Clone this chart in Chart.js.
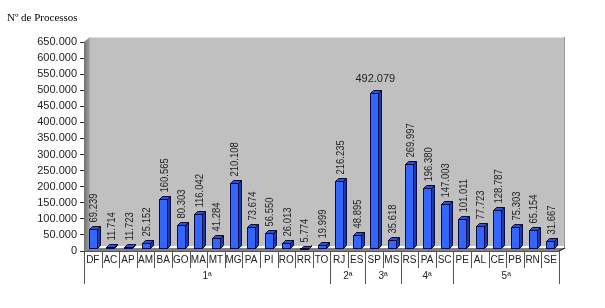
<!DOCTYPE html>
<html>
<head>
<meta charset="utf-8">
<script src="https://cdn.jsdelivr.net/npm/chart.js@4.4.1/dist/chart.umd.min.js"></script>
<style>
html,body{margin:0;padding:0;background:#fff;}
#wrap{width:605px;height:308px;position:relative;}
</style>
</head>
<body>
<div id="wrap"><canvas id="c" width="605" height="308"></canvas></div>
<script>
const categories = ['DF','AC','AP','AM','BA','GO','MA','MT','MG','PA','PI','RO','RR','TO','RJ','ES','SP','MS','RS','PA','SC','PE','AL','CE','PB','RN','SE'];
const regions = ['1ª','1ª','1ª','1ª','1ª','1ª','1ª','1ª','1ª','1ª','1ª','1ª','1ª','1ª','2ª','2ª','3ª','3ª','4ª','4ª','4ª','5ª','5ª','5ª','5ª','5ª','5ª'];
const processos = [69239,11714,11723,25152,160565,80303,116042,41284,210108,73674,56550,26013,5774,19999,216235,48895,492079,35618,269997,196380,147003,101011,77723,128787,75303,65154,31667];
const yTicks = [0,50000,100000,150000,200000,250000,300000,350000,400000,450000,500000,550000,600000,650000];
const yTitle = 'Nº de Processos';

function fmt(v){ return String(v).replace(/\B(?=(\d{3})+(?!\d))/g,'.'); }

const SANS = '"Liberation Sans", Arial, sans-serif';
const DX = 6, DY = 5;

const decor = {
  id:'decor',
  beforeDatasetsDraw(chart){
    const {ctx, chartArea:a} = chart;
    ctx.save();
    ctx.fillStyle = '#c0c0c0';
    ctx.fillRect(a.left+DX, a.top-DY, a.right-a.left, a.bottom-a.top);
    ctx.strokeStyle = '#e0e0e0';
    ctx.lineWidth = 1;
    ctx.beginPath(); ctx.moveTo(a.left+DX, a.top-DY+0.5); ctx.lineTo(a.right+DX, a.top-DY+0.5); ctx.stroke();
    ctx.strokeStyle = '#9a9a9a';
    ctx.beginPath(); ctx.moveTo(a.right+DX-0.5, a.top-DY); ctx.lineTo(a.right+DX-0.5, a.bottom-DY+2); ctx.stroke();
    const g = ctx.createLinearGradient(a.left,0,a.left+DX,0);
    g.addColorStop(0,'#6e6e6e'); g.addColorStop(1,'#a8a8a8');
    ctx.fillStyle = g;
    ctx.beginPath();
    ctx.moveTo(a.left, a.top); ctx.lineTo(a.left+DX, a.top-DY);
    ctx.lineTo(a.left+DX, a.bottom-DY+2); ctx.lineTo(a.left, a.bottom);
    ctx.closePath(); ctx.fill();
    ctx.fillStyle = '#808080';
    ctx.beginPath();
    ctx.moveTo(a.left, a.bottom); ctx.lineTo(a.left+DX, a.bottom-DY+2);
    ctx.lineTo(a.right+DX, a.bottom-DY+2); ctx.lineTo(a.right, a.bottom);
    ctx.closePath(); ctx.fill();
    ctx.strokeStyle = '#000';
    ctx.beginPath(); ctx.moveTo(a.right, a.bottom); ctx.lineTo(a.right+DX, a.bottom-DY+2); ctx.stroke();
    ctx.restore();
  },
  afterDatasetsDraw(chart){
    const {ctx} = chart;
    const meta = chart.getDatasetMeta(0);
    ctx.save();
    const d = 3;
    meta.data.forEach((bar, i) => {
      const w = bar.width;
      const l = Math.round(bar.x - w/2) + 0.5, r = l + w, t = Math.round(bar.y) + 0.5, b = bar.base - 2;
      ctx.lineWidth = 1;
      ctx.strokeStyle = '#0a0a40';
      ctx.fillStyle = '#1c3aa8';
      ctx.beginPath();
      ctx.moveTo(r, t); ctx.lineTo(r+d, t-d); ctx.lineTo(r+d, b-d); ctx.lineTo(r, b); ctx.closePath();
      ctx.fill(); ctx.stroke();
      ctx.fillStyle = '#2a52d8';
      ctx.beginPath();
      ctx.moveTo(l, t); ctx.lineTo(l+d, t-d); ctx.lineTo(r+d, t-d); ctx.lineTo(r, t); ctx.closePath();
      ctx.fill(); ctx.stroke();
      ctx.fillStyle = '#3366ff';
      ctx.fillRect(l, t, w, b-t);
      ctx.strokeRect(l, t, w, b-t);

      const txt = fmt(processos[i]);
      ctx.fillStyle = '#222';
      ctx.font = '11px ' + SANS;
      if (processos[i] > 400000) {
        ctx.textAlign = 'center'; ctx.textBaseline = 'alphabetic';
        ctx.fillText(txt, bar.x + 1, t - 12);
      } else {
        ctx.save();
        ctx.translate(bar.x + 1.5, t - 7);
        ctx.rotate(-Math.PI/2);
        ctx.scale(0.86, 1);
        ctx.textAlign = 'left'; ctx.textBaseline = 'middle';
        ctx.fillText(txt, 0, 0);
        ctx.restore();
      }
    });
    ctx.restore();
  },
  afterDraw(chart){
    const {ctx, chartArea:a} = chart;
    const xs = chart.scales.x;
    ctx.save();
    ctx.strokeStyle = '#555';
    ctx.lineWidth = 1;
    ctx.beginPath(); ctx.moveTo(a.left, a.bottom+0.5); ctx.lineTo(a.right, a.bottom+0.5); ctx.stroke();
    const n = categories.length;
    const step = (a.right - a.left)/n;
    const catBottom = a.bottom + 17, grpBottom = a.bottom + 33;
    ctx.beginPath(); ctx.moveTo(a.left+0.5, a.bottom); ctx.lineTo(a.left+0.5, grpBottom); ctx.stroke();
    for (let i=0;i<n;i++){
      const xr = Math.round(xs.getPixelForValue(i) + step/2) + 0.5;
      const last = i === n-1;
      const grp = last || regions[i] !== regions[i+1];
      ctx.beginPath(); ctx.moveTo(xr, a.bottom); ctx.lineTo(xr, grp ? grpBottom : catBottom); ctx.stroke();
    }
    ctx.fillStyle = '#222';
    ctx.font = '10px ' + SANS;
    ctx.textAlign = 'center'; ctx.textBaseline = 'middle';
    categories.forEach((c,i) => ctx.fillText(c, xs.getPixelForValue(i), a.bottom + 9.5));
    let s = 0;
    for (let i=0;i<n;i++){
      if (i === n-1 || regions[i] !== regions[i+1]){
        const xc = (xs.getPixelForValue(s) + xs.getPixelForValue(i))/2;
        ctx.fillText(regions[i], xc, a.bottom + 25.5);
        s = i+1;
      }
    }
    ctx.font = '11px "Liberation Serif", "Times New Roman", serif';
    ctx.textAlign = 'left'; ctx.textBaseline = 'alphabetic';
    ctx.fillStyle = '#000';
    ctx.fillText(yTitle, 7, 21);
    ctx.restore();
  }
};

new Chart(document.getElementById('c'), {
  type:'bar',
  data:{
    labels: categories,
    datasets:[{
      data: processos,
      backgroundColor:'rgba(0,0,0,0)',
      borderWidth:0,
      barThickness:8
    }]
  },
  options:{
    responsive:false,
    animation:false,
    layout:{padding:{top:42,right:46,bottom:0,left:0}},
    plugins:{legend:{display:false},tooltip:{enabled:false},title:{display:false}},
    scales:{
      x:{
        display:true,
        grid:{display:false},
        border:{display:false},
        ticks:{display:false},
        afterFit(s){ s.height = 57; }
      },
      y:{
        min:0, max:650000,
        afterBuildTicks(s){ s.ticks = yTicks.map(v => ({value:v})); },
        ticks:{
          autoSkip:false,
          callback:(v)=>fmt(v),
          font:{size:11, family:SANS},
          color:'#222',
          padding:3
        },
        grid:{drawOnChartArea:false, tickLength:4, color:'#333'},
        border:{display:true, color:'#333'},
        afterFit(s){ s.width = 84; }
      }
    }
  },
  plugins:[decor]
});
</script>
</body>
</html>
